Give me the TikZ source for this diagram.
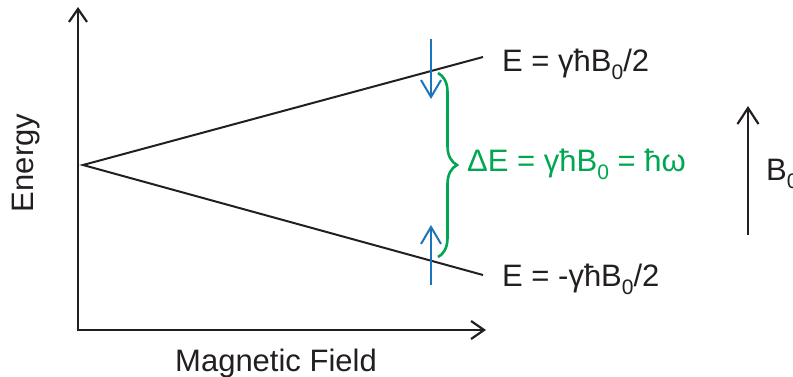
\documentclass[tikz,border=0pt]{standalone}
\usepackage{fontspec}
\setmainfont{Liberation Sans}
\usetikzlibrary{arrows.meta,decorations.pathreplacing}
\definecolor{ink}{HTML}{231F20}
\definecolor{spinblue}{HTML}{1B75BC}
\definecolor{bracegreen}{HTML}{00A651}
\newcommand{\mysub}[1]{\raisebox{-0.26em}{\fontsize{21}{21}\selectfont #1}}
\begin{document}
\begin{tikzpicture}[x=1pt,y=-1pt,
  font=\fontsize{31}{36}\selectfont,
  axis/.style={draw=ink, line width=2.2pt, line join=miter},
  level/.style={draw=ink, line width=2pt},
  spin/.style={draw=spinblue, line width=2pt, -{Straight Barb[length=17pt,width=20pt]}},
  lbl/.style={text=ink, inner sep=0pt, anchor=base west},
  bracestyle/.style={draw=bracegreen, line width=2.6pt, decorate, decoration={brace, amplitude=19pt}}]
\clip (0,0) rectangle (793,376);
\useasboundingbox (0,0) rectangle (793,376);
% axes
\coordinate (ytip) at (78,7);
\coordinate (xtip) at (486,330);
\draw[axis, {Straight Barb[length=13pt,width=18pt]}-{Straight Barb[length=13pt,width=18pt]}] (ytip) |- (xtip);
\node[text=ink, inner sep=0pt, anchor=base, rotate=90] (elab) at (33,163) {Energy};
\node[text=ink, inner sep=0pt, anchor=base] (mlab) at (276,371) {Magnetic Field};
% levels
\coordinate (V) at (83,165);
\coordinate (U) at (483,57);
\coordinate (L) at (483,275);
\draw[level] (U) -- (V) -- (L);
\node[lbl] (eup) at (502,71) {E = γħB\mysub{0}/2};
\node[lbl] (edn) at (502,286) {E = -γħB\mysub{0}/2};
% spins
\coordinate (s1a) at (431,39);
\coordinate (s1b) at (431,99);
\coordinate (s2a) at (431,285);
\coordinate (s2b) at (431,225);
\draw[spin] (s1a) -- (s1b);
\draw[spin] (s2a) -- (s2b);
% brace
\coordinate (bt) at (438,73);
\coordinate (bb) at (438,257);
\draw[bracestyle] (bt) -- (bb);
\node[lbl, text=bracegreen] (de) at (467,171) {ΔE = γħB\mysub{0} = ħω};
% B0 arrow
\coordinate (ba) at (748,235);
\coordinate (bh) at (748,106);
\draw[axis, -{Straight Barb[length=16pt,width=21pt]}] (ba) -- (bh);
\node[lbl] (b0) at (766,180) {B\mysub{0}};
\end{tikzpicture}
\end{document}
